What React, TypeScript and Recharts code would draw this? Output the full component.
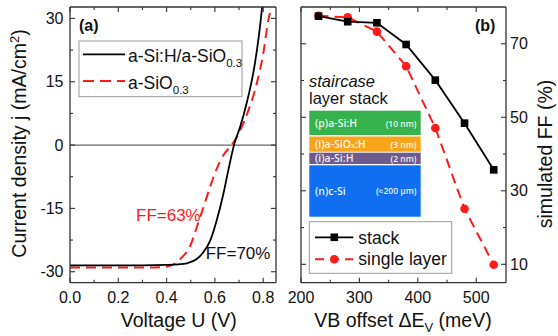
import React from 'react';
import { LineChart, Line, XAxis, YAxis, ReferenceLine } from 'recharts';

const FONT = '"Liberation Sans", Arial, Helvetica, sans-serif';
const INSET_FONT = '"Open Sans", "Liberation Sans", sans-serif';
const RED = '#ff1a1a';

// ---- Panel (a): J-V curves ----
const stackV = [0, 0.1, 0.2, 0.3, 0.4, 0.45, 0.483, 0.525, 0.552, 0.58, 0.607, 0.635, 0.655, 0.68, 0.704, 0.734, 0.763, 0.783, 0.8];
const stackJ = [-28.5, -28.5, -28.5, -28.5, -28.4, -28.25, -28.0, -27.0, -25.4, -22.7, -17.9, -11.6, -6.1, 0.2, 4.2, 10.5, 18.4, 26.3, 35];
const singleV = [0, 0.1, 0.2, 0.3, 0.38, 0.42, 0.445, 0.47, 0.497, 0.52, 0.54, 0.56, 0.58, 0.6, 0.62, 0.64, 0.66, 0.68, 0.704, 0.738, 0.773, 0.8, 0.821, 0.828];
const singleJ = [-29.0, -29.0, -29.0, -29.0, -28.9, -28.5, -27.6, -26.2, -24.0, -20.3, -16.9, -13.4, -9.9, -6.7, -4.0, -2.0, -0.6, 0.9, 3.4, 8.1, 14.5, 21.6, 29.5, 31.3];
const vTicks = [0, 0.1, 0.2, 0.3, 0.4, 0.5, 0.6, 0.7, 0.8];
const vLabels = [0, 0.2, 0.4, 0.6, 0.8];
const jTicks = [-30, -22.5, -15, -7.5, 0, 7.5, 15, 22.5, 30];
const jLabels = [-30, -15, 0, 15, 30];

// ---- Panel (b): FF vs VB offset ----
const offsets = [230, 280, 330, 380, 430, 480, 530];
const stackFF = [77.5, 76.0, 75.7, 69.8, 60.1, 48.4, 35.7];
const singleFF = [77.6, 77.2, 73.3, 63.9, 47.1, 25.1, 9.9];
const offTicks = [200, 250, 300, 350, 400, 450, 500];
const offLabels = [200, 300, 400, 500];
const ffTicks = [10, 20, 30, 40, 50, 60, 70];
const ffLabels = [10, 30, 50, 70];

const curveStack = stackV.map((v, i) => ({ v, j: stackJ[i] }));
const curveSingle = singleV.map((v, i) => ({ v, j: singleJ[i] }));
const ffData = offsets.map((x, i) => ({ x, stack: stackFF[i], single: singleFF[i] }));

const AXIS_LINE = { stroke: '#333', strokeWidth: 1.3 };

const makeTick = (side: string, labels: number[], fmt: (v: number) => string) => (props: any) => {
  const { x, y, payload } = props;
  const v = payload.value;
  const isLabel = labels.some((l) => Math.abs(l - v) < 1e-9);
  const len = isLabel ? 5 : 3;
  let line: any = null;
  let text: any = null;
  const tp = { fontFamily: FONT, fontSize: 16, fill: '#111' };
  const show = fmt(v) !== '';
  if (side === 'bottom') {
    line = <line x1={x} x2={x} y1={y} y2={y - len} stroke="#333" strokeWidth={1.1} />;
    if (isLabel && show) text = <text x={x} y={y + 20} textAnchor="middle" {...tp}>{fmt(v)}</text>;
  } else if (side === 'top') {
    line = <line x1={x} x2={x} y1={y} y2={y + len} stroke="#333" strokeWidth={1.1} />;
  } else if (side === 'left') {
    line = <line x1={x} x2={x + len} y1={y} y2={y} stroke="#333" strokeWidth={1.1} />;
    if (isLabel && show) text = <text x={x - 6.5} y={y} dy="0.35em" textAnchor="end" {...tp}>{fmt(v)}</text>;
  } else {
    line = <line x1={x} x2={x - len} y1={y} y2={y} stroke="#333" strokeWidth={1.1} />;
    if (isLabel && show) text = <text x={x + 4} y={y} dy="0.35em" textAnchor="start" {...tp}>{fmt(v)}</text>;
  }
  return <g>{line}{text}</g>;
};

const axisCommon = { tickSize: 0, tickMargin: 0, tickLine: false, axisLine: AXIS_LINE, interval: 0 as const, type: 'number' as const, allowDataOverflow: true };

const SquareDot = (props: any) => {
  const { cx, cy } = props;
  if (cx == null || cy == null) return <g />;
  return <rect x={cx - 3.8} y={cy - 3.8} width={7.6} height={7.6} fill="#000" />;
};
const CircleDot = (props: any) => {
  const { cx, cy } = props;
  if (cx == null || cy == null) return <g />;
  return <circle cx={cx} cy={cy} r={4.3} fill={RED} />;
};

export default function App() {
  return (
    <div style={{ position: 'absolute', left: 0, top: 0, width: 558, height: 336, background: '#fff', fontFamily: FONT }}>
      <div style={{ position: 'absolute', left: 0, top: 0 }}>
        <LineChart width={280} height={336} margin={{ top: 0, right: 0, bottom: 23.3, left: 30 }}>
          <XAxis xAxisId="x" dataKey="v" {...axisCommon} height={30} domain={[0, 0.853]} ticks={vTicks}
            tick={makeTick('bottom', vLabels, (v) => v.toFixed(1))} />
          <XAxis xAxisId="xt" orientation="top" dataKey="v" {...axisCommon} height={7} domain={[0, 0.853]} ticks={vTicks}
            tick={makeTick('top', vLabels, () => '')} />
          <YAxis yAxisId="y" dataKey="j" {...axisCommon} width={40} domain={[-32.6, 32.7]} ticks={jTicks}
            tick={makeTick('left', jLabels, (v) => String(v))} />
          <YAxis yAxisId="yr" orientation="right" dataKey="j" {...axisCommon} width={4} domain={[-32.6, 32.7]} ticks={jTicks}
            tick={makeTick('right', jLabels, () => '')} />
          <ReferenceLine xAxisId="x" yAxisId="y" y={0} stroke="#666" strokeWidth={1.3} />
          <Line xAxisId="x" yAxisId="y" data={curveSingle} dataKey="j" type="monotone" stroke={RED} strokeWidth={2}
            strokeDasharray="10 6" dot={false} isAnimationActive={false} />
          <Line xAxisId="x" yAxisId="y" data={curveStack} dataKey="j" type="monotone" stroke="#000" strokeWidth={1.8}
            dot={false} isAnimationActive={false} />
        </LineChart>
      </div>
      <div style={{ position: 'absolute', left: 280, top: 0 }}>
        <LineChart width={278} height={336} data={ffData} margin={{ top: 0, right: 12, bottom: 23.3, left: 0 }}>
          <XAxis xAxisId="x" dataKey="x" {...axisCommon} height={30} domain={[200, 551]} ticks={offTicks}
            tick={makeTick('bottom', offLabels, (v) => String(v))} />
          <XAxis xAxisId="xt" orientation="top" dataKey="x" {...axisCommon} height={7} domain={[200, 551]} ticks={offTicks}
            tick={makeTick('top', offLabels, () => '')} />
          <YAxis yAxisId="y" orientation="right" {...axisCommon} width={40} domain={[5, 80]} ticks={ffTicks}
            tick={makeTick('right', ffLabels, (v) => String(v))} />
          <YAxis yAxisId="yl" orientation="left" {...axisCommon} width={21} domain={[5, 80]} ticks={ffTicks}
            tick={makeTick('left', ffLabels, () => '')} />
          <Line xAxisId="x" yAxisId="y" dataKey="single" type="linear" stroke={RED} strokeWidth={2}
            strokeDasharray="10 6" dot={<CircleDot />} isAnimationActive={false} />
          <Line xAxisId="x" yAxisId="y" dataKey="stack" type="linear" stroke="#000" strokeWidth={1.8}
            dot={<SquareDot />} isAnimationActive={false} />
        </LineChart>
      </div>
      <svg width={558} height={336} style={{ position: 'absolute', left: 0, top: 0, pointerEvents: 'none' }} fontFamily={FONT}>
        {/* axis titles */}
        <text x={178.8} y={327} textAnchor="middle" fontSize={19.5} fill="#111">Voltage U (V)</text>
        <text x={403} y={327} textAnchor="middle" fontSize={19.5} fill="#111">
          VB offset ΔE<tspan fontSize={13} dy={5}>V</tspan><tspan dy={-5}> (meV)</tspan>
        </text>
        <text transform="translate(26,143.5) rotate(-90)" textAnchor="middle" fontSize={19.5} fill="#111">
          Current density j (mA/cm<tspan fontSize={13} dy={-7}>2</tspan><tspan dy={7}>)</tspan>
        </text>
        <text transform="translate(552,154) rotate(-90)" textAnchor="middle" fontSize={19.5} fill="#111">simulated FF (%)</text>

        {/* panel labels */}
        <text x={79} y={31} fontSize={16} fontWeight="bold" fill="#111">(a)</text>
        <text x={475} y={31} fontSize={16} fontWeight="bold" fill="#111">(b)</text>

        {/* FF annotations */}
        <text x={136} y={220.5} fontSize={17} fill={RED}>FF=63%</text>
        <text x={205.7} y={259} fontSize={17} fill="#111">FF=70%</text>

        {/* legend (a) */}
        <rect x={79} y={41} width={163} height={55.7} fill="#fff" stroke="#999" strokeWidth={1} />
        <line x1={83} x2={125} y1={54.3} y2={54.3} stroke="#000" strokeWidth={1.8} />
        <text x={128} y={62} fontSize={17.5} fill="#111">a-Si:H/a-SiO<tspan fontSize={11.5} dy={5}>0.3</tspan></text>
        <line x1={83} x2={125} y1={81} y2={81} stroke={RED} strokeWidth={2} strokeDasharray="11 6" />
        <text x={128} y={89} fontSize={17.5} fill="#111">a-SiO<tspan fontSize={11.5} dy={5}>0.3</tspan></text>

        {/* inset layer stack */}
        <text x={309} y={86.5} fontSize={16.5} fontStyle="italic" fill="#111">staircase</text>
        <text x={309} y={103.5} fontSize={16.5} fill="#111">layer stack</text>
        <rect x={309.3} y={110.7} width={111.4} height={24.3} fill="#35b24e" />
        <rect x={309.3} y={136.5} width={111.4} height={15.2} fill="#f9a51a" />
        <rect x={309.3} y={152.7} width={111.4} height={11.3} fill="#6e5a8c" />
        <rect x={309.3} y={165.3} width={111.4} height={51.4} fill="#0f6ff0" />
        <g fontFamily={INSET_FONT} fontWeight={600} fill="#fff" fillOpacity={0.92}>
          <text x={315} y={127} fontSize={10.5}>(p)a-Si:H</text>
          <text x={416.5} y={126.5} fontSize={8.5} textAnchor="end">(10 nm)</text>
          <text x={315} y={148} fontSize={10.5}>(i)a-SiO<tspan fontSize={7}>x</tspan>:H</text>
          <text x={416.5} y={147.5} fontSize={8.5} textAnchor="end">(3 nm)</text>
          <text x={315} y={162.3} fontSize={10.5}>(i)a-Si:H</text>
          <text x={416.5} y={162} fontSize={8.5} textAnchor="end">(2 nm)</text>
          <text x={315} y={194.5} fontSize={10.5}>(n)c-Si</text>
          <text x={416.5} y={194} fontSize={8.5} textAnchor="end">(≈200 µm)</text>
        </g>

        {/* legend (b) */}
        <rect x={309.3} y={221.7} width={142.4} height={51.6} fill="#fff" stroke="#999" strokeWidth={1} />
        <line x1={315} x2={353.3} y1={237.3} y2={237.3} stroke="#000" strokeWidth={1.8} />
        <rect x={330.5} y={233.5} width={7.6} height={7.6} fill="#000" />
        <text x={358.3} y={243.5} fontSize={17.5} fill="#111">stack</text>
        <line x1={315} x2={353.3} y1={259.3} y2={259.3} stroke={RED} strokeWidth={2} strokeDasharray="9 6" />
        <circle cx={334.3} cy={259.3} r={4.3} fill={RED} />
        <text x={358.3} y={265} fontSize={17.5} fill="#111">single layer</text>
      </svg>
    </div>
  );
}
